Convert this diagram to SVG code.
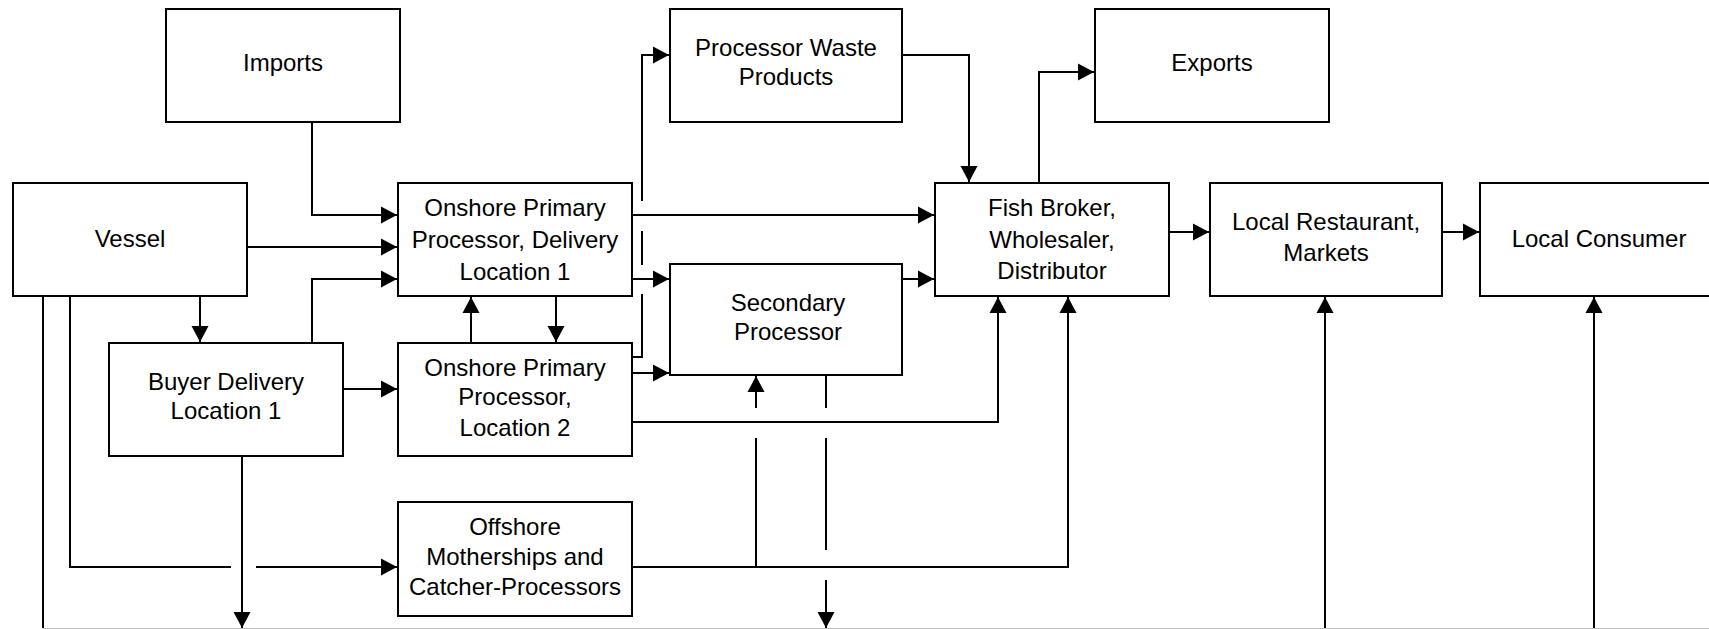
<svg xmlns="http://www.w3.org/2000/svg" width="1709" height="629" viewBox="0 0 1709 629">
<style>
.box{fill:#fff;stroke:#000;stroke-width:2}
.t{font-family:"Liberation Sans",Arial,sans-serif;font-size:24px;fill:#000;text-anchor:middle}
.c{fill:none;stroke:#000;stroke-width:2}
.ca{fill:none;stroke:#000;stroke-width:2;marker-end:url(#a)}
</style>
<defs>
<marker id="a" markerUnits="userSpaceOnUse" markerWidth="17" markerHeight="19" refX="16" refY="9.5" orient="auto">
<path d="M0,1 L16,9.5 L0,18 z" fill="#000"/>
</marker>
</defs>
<rect width="1709" height="629" fill="#fff"/>
<g id="connectors">
<path class="ca" d="M312,122 V215 H397"/>
<path class="ca" d="M247,247 H397"/>
<path class="ca" d="M312,343 V279 H397"/>
<path class="ca" d="M200,296 V342"/>
<path class="c" d="M43,296 V628"/>
<path class="c" d="M70,296 V567 H231"/>
<path class="ca" d="M256,567 H397"/>
<path class="ca" d="M242,456 V628"/>
<path class="ca" d="M343,389 H397"/>
<path class="ca" d="M471,343 V297"/>
<path class="ca" d="M556,296 V342"/>
<path class="ca" d="M632,215 H934"/>
<path class="ca" d="M632,279 H669"/>
<path class="c" d="M632,357 H642 V294 M642,265 V231"/>
<path class="ca" d="M642,201 V55 H669"/>
<path class="ca" d="M632,373 H669"/>
<path class="ca" d="M632,422 H998 V297"/>
<path class="ca" d="M632,567 H1068 V297"/>
<path class="c" d="M756,567 V438"/>
<path class="ca" d="M756,408 V376"/>
<path class="c" d="M826,375 V408 M826,438 V550"/>
<path class="ca" d="M826,580 V628"/>
<path class="ca" d="M902,55 H969 V182"/>
<path class="ca" d="M1039,183 V72 H1094"/>
<path class="ca" d="M902,279 H934"/>
<path class="ca" d="M1169,232 H1209"/>
<path class="ca" d="M1441,232 H1479"/>
<path class="ca" d="M1325,628 V297"/>
<path class="ca" d="M1594,628 V297"/>
<path d="M43,628.5 H1709" stroke="#bdbdbd" stroke-width="1" fill="none"/>
</g>
<g id="imports"><rect class="box" x="166" y="9" width="234" height="113"/><text class="t" x="283" y="71">Imports</text></g>
<g id="processor-waste"><rect class="box" x="670" y="9" width="232" height="113"/><text class="t" x="786" y="56">Processor Waste</text><text class="t" x="786" y="85">Products</text></g>
<g id="exports"><rect class="box" x="1095" y="9" width="234" height="113"/><text class="t" x="1212" y="71">Exports</text></g>
<g id="vessel"><rect class="box" x="13" y="183" width="234" height="113"/><text class="t" x="130" y="247">Vessel</text></g>
<g id="onshore1"><rect class="box" x="398" y="183" width="234" height="113"/><text class="t" x="515" y="216">Onshore Primary</text><text class="t" x="515" y="248">Processor, Delivery</text><text class="t" x="515" y="280">Location 1</text></g>
<g id="fish-broker"><rect class="box" x="935" y="183" width="234" height="113"/><text class="t" x="1052" y="216">Fish Broker,</text><text class="t" x="1052" y="248">Wholesaler,</text><text class="t" x="1052" y="279">Distributor</text></g>
<g id="local-restaurant"><rect class="box" x="1210" y="183" width="232" height="113"/><text class="t" x="1326" y="230">Local Restaurant,</text><text class="t" x="1326" y="261">Markets</text></g>
<g id="local-consumer"><rect class="box" x="1480" y="183" width="240" height="113"/><text class="t" x="1599" y="247">Local Consumer</text></g>
<g id="secondary"><rect class="box" x="670" y="264" width="232" height="111"/><text class="t" x="788" y="311">Secondary</text><text class="t" x="788" y="340">Processor</text></g>
<g id="buyer-delivery"><rect class="box" x="109" y="343" width="234" height="113"/><text class="t" x="226" y="390">Buyer Delivery</text><text class="t" x="226" y="419">Location 1</text></g>
<g id="onshore2"><rect class="box" x="398" y="343" width="234" height="113"/><text class="t" x="515" y="376">Onshore Primary</text><text class="t" x="515" y="405">Processor,</text><text class="t" x="515" y="436">Location 2</text></g>
<g id="offshore"><rect class="box" x="398" y="502" width="234" height="114"/><text class="t" x="515" y="535">Offshore</text><text class="t" x="515" y="565">Motherships and</text><text class="t" x="515" y="595">Catcher-Processors</text></g>
</svg>
